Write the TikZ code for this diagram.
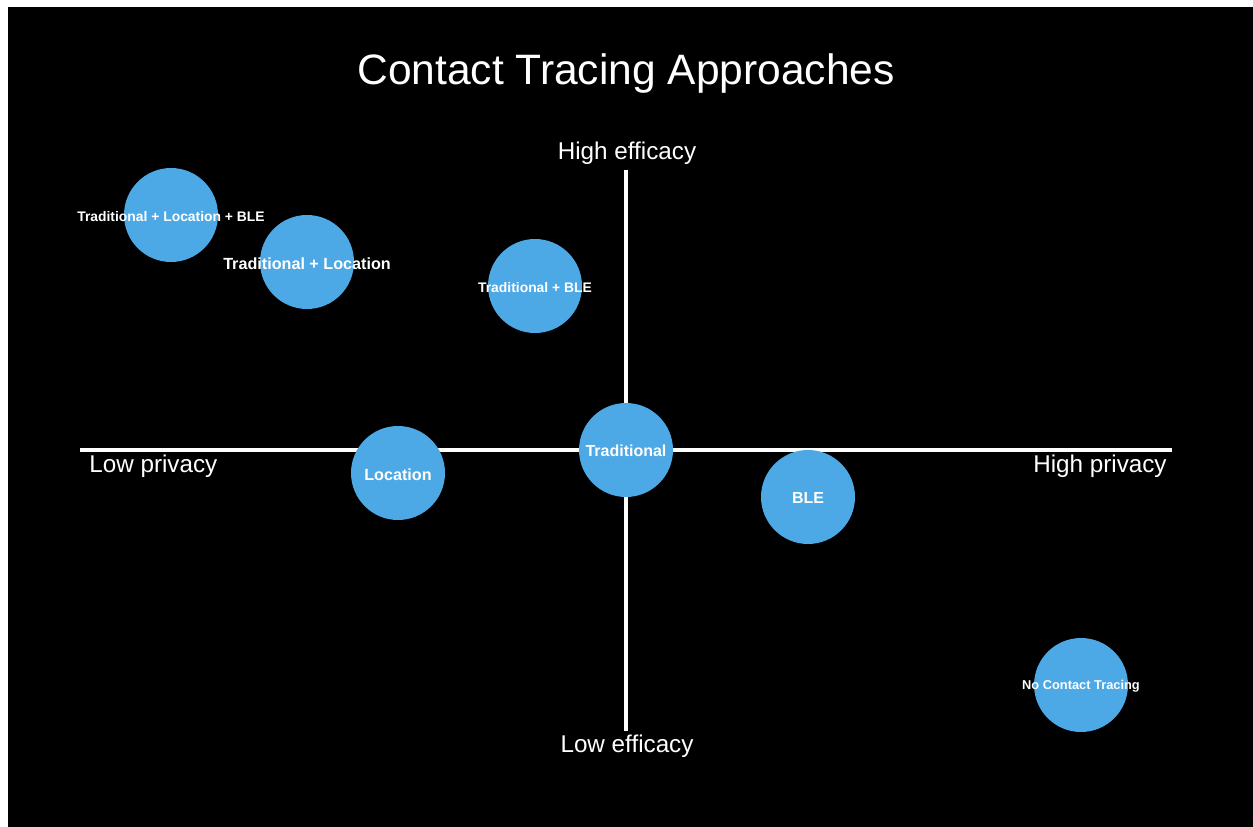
\documentclass[tikz,border=0pt]{standalone}
\usepackage{fontspec}
\setmainfont{Liberation Sans}
\definecolor{bubbleblue}{RGB}{77,168,230}

\begin{document}
\begin{tikzpicture}[x=0.02cm,y=-0.02cm,
    bubble/.style={circle,fill=bubbleblue,minimum size=1.88cm,inner sep=0pt},
    btext/.style={text=white,inner sep=0pt,yshift=-0.025cm,font=\bfseries\fontsize{#1}{#1}\selectfont},
    axlabel/.style={text=white,inner sep=0pt,font=\fontsize{13.8}{16}\selectfont},
    axis/.style={white,line width=2.3pt}]
  % slide background
  \fill[white] (0,0) rectangle (1253,827);
  \fill[black] (8,7) rectangle (1253,827);
  \node[text=white,inner sep=0pt,font=\fontsize{24.2}{28}\selectfont] (title) at (626,74) {Contact Tracing Approaches};
  % axes
  \coordinate (west) at (80,450);
  \coordinate (east) at (1172,450);
  \coordinate (north) at (626,170);
  \coordinate (south) at (626,731);
  \draw[axis] (west) -- (east);
  \draw[axis] (north) -- (south);
  \node[axlabel] (hieff) at (627,153) {High efficacy};
  \node[axlabel] (loeff) at (627,746) {Low efficacy};
  \node[axlabel,anchor=west] (lopriv) at (89,466) {Low privacy};
  \node[axlabel,anchor=east] (hipriv) at (1167,466) {High privacy};
  % approaches
  \node[bubble,label={[btext=7.9]center:Traditional + Location + BLE}] (tlb) at (171,215) {};
  \node[bubble,label={[btext=9.2]center:Traditional + Location}] (tl) at (307,262) {};
  \node[bubble,label={[btext=7.9]center:Traditional + BLE}] (tb) at (535,286) {};
  \node[bubble,label={[btext=9.1]center:Traditional}] (trad) at (626,450) {};
  \node[bubble,label={[btext=9.2]center:Location}] (loc) at (398,473) {};
  \node[bubble,label={[btext=9.1]center:BLE}] (ble) at (808,497) {};
  \node[bubble,label={[btext=7.3]center:No Contact Tracing}] (none) at (1081,685) {};
\end{tikzpicture}
\end{document}
